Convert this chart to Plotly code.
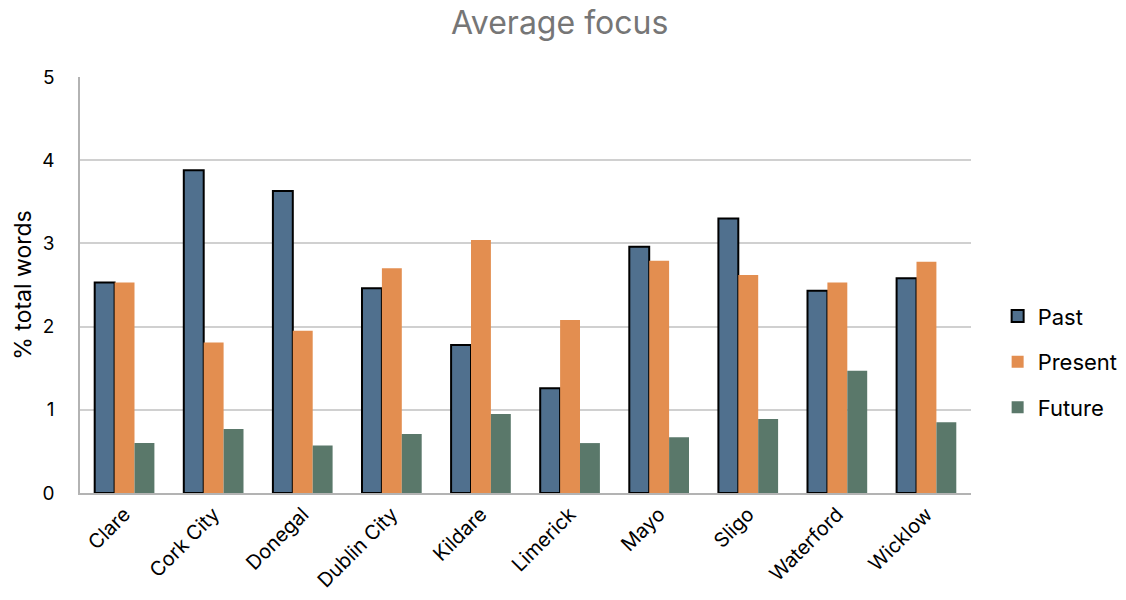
import plotly.graph_objects as go

counties = ["Clare", "Cork City", "Donegal", "Dublin City", "Kildare",
            "Limerick", "Mayo", "Sligo", "Waterford", "Wicklow"]
past = [2.53, 3.88, 3.63, 2.46, 1.78, 1.26, 2.96, 3.30, 2.43, 2.58]
present = [2.53, 1.81, 1.95, 2.70, 3.04, 2.08, 2.79, 2.62, 2.53, 2.78]
future = [0.60, 0.77, 0.57, 0.71, 0.95, 0.60, 0.67, 0.89, 1.47, 0.85]

FONT = "Inter, Open Sans, sans-serif"

fig = go.Figure()
fig.add_trace(go.Bar(name="Past", x=counties, y=past, legendgroup="a",
                     marker=dict(color="#50708E", line=dict(color="#000000", width=2))))
fig.add_trace(go.Bar(name="Present", x=counties, y=present, legendgroup="b",
                     marker=dict(color="#E38E50", line=dict(width=0))))
fig.add_trace(go.Bar(name="Future", x=counties, y=future, legendgroup="c",
                     marker=dict(color="#5A786A", line=dict(width=0))))

fig.update_layout(
    width=1126, height=600,
    paper_bgcolor="white", plot_bgcolor="white",
    margin=dict(l=80, r=155, t=77, b=107, autoexpand=False),
    barmode="group", bargap=0.33, bargroupgap=0,
    title=dict(text="Average focus", x=0.497, xanchor="center", y=0.962, yanchor="middle",
               font=dict(family=FONT, size=32, color="#767676")),
    font=dict(family=FONT, size=18, color="#000000"),
    legend=dict(xref="container", x=0.886, xanchor="left",
                yref="container", y=0.397, yanchor="middle",
                traceorder="grouped", tracegroupgap=14,
                font=dict(family=FONT, size=22, color="#000000"),
                bgcolor="rgba(0,0,0,0)"),
    xaxis=dict(tickangle=-45, showline=True, linecolor="#B3B3B3", linewidth=1.5,
               ticks="", tickfont=dict(family=FONT, size=20, color="#000000")),
    yaxis=dict(range=[0, 5], dtick=1, showgrid=True, gridcolor="#D0D0D0", gridwidth=1.5,
               showline=True, linecolor="#B3B3B3", linewidth=1.5, zeroline=False,
               ticks="", ticklabelstandoff=20,
               tickfont=dict(family=FONT, size=19, color="#000000"),
               title=dict(text="% total words", standoff=4,
                          font=dict(family=FONT, size=23, color="#000000"))),
)

fig.write_html("out.html")
